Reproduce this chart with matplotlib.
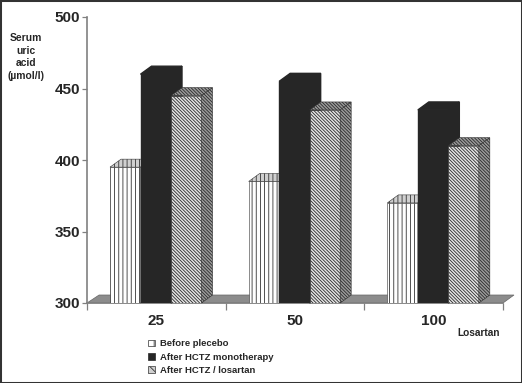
import numpy as np
import matplotlib
matplotlib.use("Agg")
import matplotlib.pyplot as plt
from matplotlib.patches import Polygon, Patch, Rectangle

doses = ['25', '50', '100']
before_placebo = [395, 385, 370]
after_hctz = [460, 455, 435]
after_losartan = [445, 435, 410]
series_names = ['Before plecebo', 'After HCTZ monotherapy', 'After HCTZ / losartan']
y_ticks = [300, 350, 400, 450, 500]


def draw_bar(ax, x, value, width, dx, dy, face, top, side, hatch, edge, lw=0.4):
    # 正面
    ax.bar(x, value - 300, width, bottom=300, align='edge', facecolor=face,
           edgecolor=edge, hatch=hatch, linewidth=lw, zorder=x + 3)
    # 上面
    ax.add_patch(Polygon([(x, value), (x + dx, value + dy),
                          (x + width + dx, value + dy), (x + width, value)],
                         facecolor=top, edgecolor=edge, hatch=hatch, linewidth=lw,
                         zorder=x + 3, clip_on=False))
    # 側面
    ax.add_patch(Polygon([(x + width, 300), (x + width + dx, 300 + dy),
                          (x + width + dx, value + dy), (x + width, value)],
                         facecolor=side, edgecolor=edge, hatch=hatch, linewidth=lw,
                         zorder=x + 3, clip_on=False))


def main():
    plt.rcParams['font.family'] = ['Liberation Sans', 'DejaVu Sans']
    plt.rcParams['font.weight'] = 'bold'
    plt.rcParams['hatch.linewidth'] = 0.6

    fig = plt.figure(figsize=(5.22, 3.83), dpi=100)
    ax = fig.add_axes([87 / 522, 1 - 303 / 383, 416 / 522, 286 / 383])

    ax.set_xlim(0, 3)
    ax.set_ylim(300, 500)

    # 奥行きをデータ座標に換算
    dx = 11 / (416 / 3)
    dy = 8 / (286 / 200)
    width = 30.5 / (416 / 3)

    # 床
    ax.add_patch(Polygon([(0, 300), (dx * 1.1, 300 + dy), (3 + dx, 300 + dy), (3, 300)],
                         facecolor='#8c8c8c', edgecolor='#666666', linewidth=0.5,
                         clip_on=False, zorder=1))

    for i in range(len(doses)):
        x0 = i + 23 / (416 / 3)
        draw_bar(ax, x0, before_placebo[i], width, dx, dy,
                 'white', '#d0d0d0', '#d0d0d0', '||||', '#333333')
        draw_bar(ax, x0 + width, after_hctz[i], width, dx, dy,
                 '#262626', '#262626', '#262626', None, '#262626', lw=1.0)
        draw_bar(ax, x0 + 2 * width, after_losartan[i], width, dx, dy,
                 '#e4e4e4', '#9a9a9a', '#9a9a9a', '\\' * 10, '#2a2a2a')

    for name in ['top', 'right']:
        ax.spines[name].set_visible(False)
    for name in ['left', 'bottom']:
        ax.spines[name].set_color('#808080')
        ax.spines[name].set_linewidth(1.2)
        ax.spines[name].set_zorder(2)

    ax.set_yticks(y_ticks)
    ax.tick_params(axis='y', length=3.6, width=0.9, color='#808080', pad=1.5,
                   labelsize=11, labelcolor='#262626')
    ax.set_xticks([0, 1, 2, 3])
    ax.set_xticklabels([])
    ax.tick_params(axis='x', length=5, width=0.9, color='#808080')
    ax.set_xticks([0.5, 1.5, 2.5], minor=True)
    ax.set_xticklabels(doses, minor=True)
    ax.tick_params(axis='x', which='minor', length=0, pad=8, labelsize=11,
                   labelcolor='#262626')

    fig.text(26 / 522, 1 - 57 / 383, 'Serum\nuric\nacid\n(µmol/l)', ha='center', va='center',
             fontsize=7.4, color='#262626', linespacing=1.35)
    fig.text(479 / 522, 1 - 333 / 383, 'Losartan', ha='center', va='center',
             fontsize=7.3, color='#262626')

    handles = [Patch(facecolor='white', edgecolor='#333333', hatch='||', linewidth=0.5),
               Patch(facecolor='#262626', edgecolor='#262626', linewidth=0.5),
               Patch(facecolor='#d0d0d0', edgecolor='#333333', hatch='\\\\\\\\', linewidth=0.5)]
    fig.legend(handles, series_names, loc='upper left',
               bbox_to_anchor=(146 / 522, 1 - 337.5 / 383), frameon=False, fontsize=6.8,
               handlelength=0.7, handleheight=0.7, handletextpad=0.6, labelspacing=0.45,
               labelcolor='#262626', borderpad=0.2, borderaxespad=0)

    # 外枠
    fig.add_artist(Rectangle((0, 0), 1, 1, transform=fig.transFigure, fill=False,
                             edgecolor='#333333', linewidth=2.2))

    plt.savefig('out.png', dpi=100)


if __name__ == "__main__":
    main()
